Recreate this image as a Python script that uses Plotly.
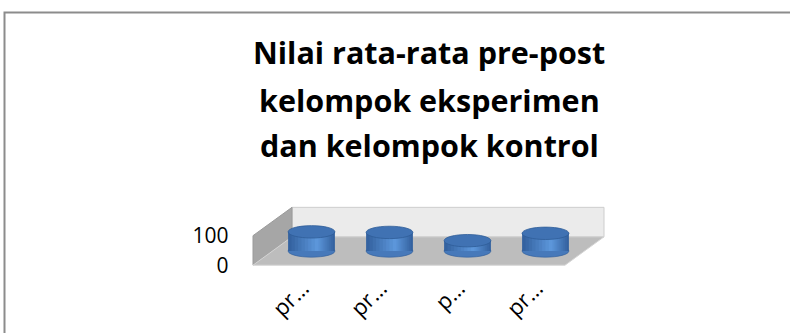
import plotly.graph_objects as go

# ---- data ----
categories = ["pr…", "pr…", "p…", "pr…"]
values = [65, 63, 35, 60]
y_ticks = [0, 100]
title_lines = ["Nilai rata-rata pre-post", "kelompok eksperimen", "dan kelompok kontrol"]

W, H = 790, 333
def px(x):
    return x / W
def py(y):
    return 1 - y / H

# geometry of the pseudo-3D box (data units of the mid-depth plane)
DX = 0.25      # half depth, category units
DV = 48        # half depth, value units
ELL = 21       # half height of cylinder ellipses, value units
BW = 0.6       # cylinder width

n = len(categories)
xs = list(range(n))

K = 0.295      # pixels per value unit
Y0 = 251       # pixel row of value 0 in the mid-depth plane
bottom_px, top_px = 270, 200
x_lo, x_hi = -1.0, n
y_lo, y_hi = (Y0 - bottom_px) / K, (Y0 - top_px) / K

fig = go.Figure()

# cylinder side shading: layered bands converging on a highlight
dark = (0x34, 0x62, 0xa0)
light = (0x5c, 0x96, 0xda)
N = 9
hl = 0.62
for k in range(N):
    t = k / (N - 1)
    c = tuple(int(round(d + (l - d) * t)) for d, l in zip(dark, light))
    left = -BW / 2 + BW * hl * t * 0.92
    right = BW / 2 - BW * (1 - hl) * t * 0.92
    fig.add_trace(go.Bar(x=xs, y=values, width=right - left, offset=left,
                         marker=dict(color="rgb(%d,%d,%d)" % c, line=dict(width=0)),
                         hoverinfo="skip", showlegend=False))

shapes = []
# frame (only top and left visible in the picture)
shapes.append(dict(type="rect", xref="paper", yref="paper",
                   x0=px(4.5), x1=1.2, y0=-0.2, y1=py(12.5),
                   line=dict(color="#8c8c8c", width=2), fillcolor="rgba(0,0,0,0)", layer="below"))
# back wall
xL, xR = -0.5, n - 0.5
shapes.append(dict(type="rect", xref="x", yref="y",
                   x0=xL + DX, x1=xR + DX, y0=DV, y1=100 + DV,
                   fillcolor="#ebebeb", line=dict(color="#cdcdcd", width=1), layer="below"))
# left wall
shapes.append(dict(type="path", xref="x", yref="y",
                   path=f"M {xL-DX},{-DV} L {xL-DX},{100-DV} L {xL+DX},{100+DV} L {xL+DX},{DV} Z",
                   fillcolor="#a6a6a6", line=dict(color="#9a9a9a", width=1), layer="below"))
# floor
shapes.append(dict(type="path", xref="x", yref="y",
                   path=f"M {xL-DX},{-DV} L {xR-DX},{-DV} L {xR+DX},{DV} L {xL+DX},{DV} Z",
                   fillcolor="#bdbdbd", line=dict(color="#d4d4d4", width=1), layer="below"))
# cylinder bottoms and tops
for x, v in zip(xs, values):
    shapes.append(dict(type="circle", xref="x", yref="y",
                       x0=x - BW / 2, x1=x + BW / 2, y0=-ELL, y1=ELL,
                       fillcolor="#4779ba", line=dict(color="#2f5d98", width=0.6), layer="below"))
    shapes.append(dict(type="circle", xref="x", yref="y",
                       x0=x - BW / 2, x1=x + BW / 2, y0=v - ELL, y1=v + ELL,
                       fillcolor="#4072b3", line=dict(color="#2f5d98", width=0.8), layer="above"))

annotations = []
title_y = [52, 99.5, 145]
for t, yy in zip(title_lines, title_y):
    annotations.append(dict(text=f"<b>{t}</b>", xref="paper", yref="paper",
                            x=px(429), y=py(yy), xanchor="center", yanchor="middle",
                            showarrow=False,
                            font=dict(family="Open Sans", size=30.5, color="#000000")))

fig.update_layout(
    width=W, height=H,
    margin=dict(l=0, r=0, t=0, b=0, autoexpand=False),
    paper_bgcolor="white", plot_bgcolor="rgba(0,0,0,0)",
    barmode="overlay",
    shapes=shapes,
    annotations=annotations,
    showlegend=False,
    xaxis=dict(domain=[px(233.5), px(623.5)], range=[x_lo, x_hi],
               tickvals=xs, ticktext=categories, tickangle=-45,
               showgrid=False, zeroline=False, showline=False, ticks="",
               ticklabelshift=-9, automargin=False,
               tickfont=dict(family="Open Sans", size=22, color="#000000"),
               anchor="y"),
    yaxis=dict(domain=[py(bottom_px), py(top_px)], range=[y_lo, y_hi], automargin=False,
               showticklabels=False, showgrid=False, zeroline=False, showline=False, ticks=""),
    yaxis2=dict(overlaying="y", anchor="free", position=px(233.5), side="left",
                range=[y_lo + DV, y_hi + DV], tickvals=y_ticks, automargin=False,
                showgrid=False, zeroline=False, showline=False, ticks="",
                ticklabelstandoff=5,
                tickfont=dict(family="Open Sans", size=21, color="#000000")),
)
fig.add_trace(go.Scatter(x=[None], y=[None], yaxis="y2", showlegend=False, hoverinfo="skip"))

fig.write_html("out.html")
